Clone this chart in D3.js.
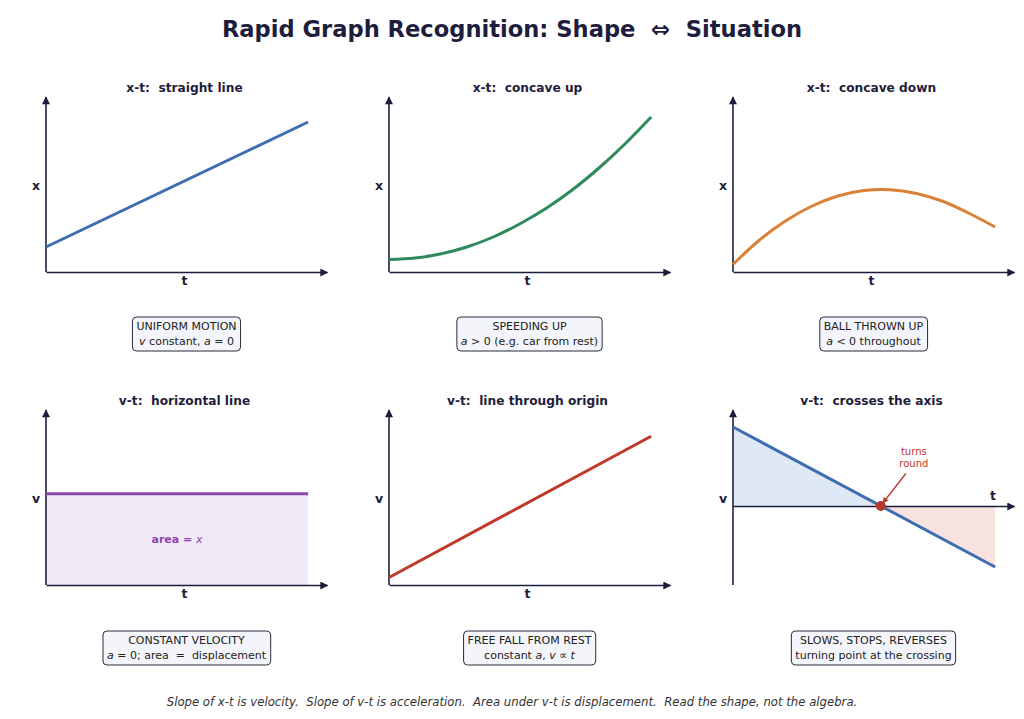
<!DOCTYPE html>
<html lang="en">
<head>
<meta charset="utf-8">
<script src="https://d3js.org/d3.v7.min.js"></script>
<style>
  * { margin: 0; padding: 0; }
  body { background: #fff; }
  svg { display: block; font-family: "DejaVu Sans", sans-serif; }
  svg text { white-space: pre; }
  .ink { fill: #1f1d3d; }
</style>
</head>
<body>
<script>
// ---- data ----
const tSamples = [0, 1, 2, 3, 4, 5, 6, 7, 8, 9, 10];
const tEnds = [0, 10];
const xStraight = [1.0, 6.0];
const xConcaveUp = [0.5, 0.56, 0.73, 1.01, 1.41, 1.93, 2.55, 3.29, 4.15, 5.12, 6.2];
const xConcaveDown = [0.3, 1.27, 2.04, 2.63, 3.04, 3.26, 3.29, 3.14, 2.83, 2.35, 1.8];
const vHorizontal = [3.65, 3.65];
const vOrigin = [0.3, 5.95];
const vCrossing = [3.16, -2.44];
const tTurn = 5.64;

const titles = ["x-t:  straight line", "x-t:  concave up", "x-t:  concave down",
                "v-t:  horizontal line", "v-t:  line through origin", "v-t:  crosses the axis"];
const yLabels = ["x", "x", "x", "v", "v", "v"];
const colors = ["#3f6eb0", "#2e8a5c", "#da8138", "#8e44ad", "#c0392b", "#3f6eb0"];
// caption lines; segments [text, italic]
const captions = [
  [[["UNIFORM MOTION", 0]], [["v", 1], [" constant, ", 0], ["a", 1], [" = 0", 0]]],
  [[["SPEEDING UP", 0]], [["a", 1], [" > 0 (e.g. car from rest)", 0]]],
  [[["BALL THROWN UP", 0]], [["a", 1], [" < 0 throughout", 0]]],
  [[["CONSTANT VELOCITY", 0]], [["a", 1], [" = 0; area  =  displacement", 0]]],
  [[["FREE FALL FROM REST", 0]], [["constant ", 0], ["a", 1], [", ", 0], ["v", 1], [" \u221d ", 0], ["t", 1]]],
  [[["SLOWS, STOPS, REVERSES", 0]], [["turning point at the crossing", 0]]]
];
const series = [
  { t: tEnds, v: xStraight },
  { t: tSamples, v: xConcaveUp },
  { t: tSamples, v: xConcaveDown },
  { t: tEnds, v: vHorizontal },
  { t: tEnds, v: vOrigin },
  { t: tEnds, v: vCrossing }
];

const W = 1024, H = 719;
const ink = "#1f1d3d";
const svg = d3.select("body").append("svg").attr("width", W).attr("height", H);

const defs = svg.append("defs");
defs.append("marker").attr("id", "arr")
  .attr("viewBox", "0 0 10 10").attr("refX", 9).attr("refY", 5)
  .attr("markerWidth", 10).attr("markerHeight", 8).attr("markerUnits", "userSpaceOnUse")
  .attr("orient", "auto")
  .append("path").attr("d", "M0,0 L10,5 L0,10 Z").attr("fill", ink);
defs.append("marker").attr("id", "arrRed")
  .attr("viewBox", "0 0 10 10").attr("refX", 9).attr("refY", 5)
  .attr("markerWidth", 7).attr("markerHeight", 6).attr("markerUnits", "userSpaceOnUse")
  .attr("orient", "auto")
  .append("path").attr("d", "M0,0 L10,5 L0,10 Z").attr("fill", "#b8372b");

svg.append("text").attr("x", 512).attr("y", 37).attr("text-anchor", "middle")
  .attr("font-size", 22.6).attr("font-weight", "bold").attr("class", "ink")
  .text("Rapid Graph Recognition: Shape  \u21d4  Situation");

const colX = [46, 389, 733];
const rowTop = [97, 410];
const plotW = 281, plotH = 175;

series.forEach((s, i) => {
  const c = i % 3, r = Math.floor(i / 3);
  const x0 = colX[c], yTop = rowTop[r], yBot = yTop + plotH;
  const g = svg.append("g");
  const x = d3.scaleLinear().domain([0, 10.72]).range([x0, x0 + plotW]);
  const y = d3.scaleLinear().domain(i === 5 ? [-3.16, 3.84] : [0, 7]).range([yBot, yTop]);
  const cx = x0 + plotW / 2 - 2;

  g.append("text").attr("x", cx).attr("y", yTop - 5).attr("text-anchor", "middle")
    .attr("font-size", 12.2).attr("font-weight", "bold").attr("class", "ink").text(titles[i]);

  const pts = s.t.map((t, k) => [t, s.v[k]]);

  // fills
  if (i === 3) {
    g.append("path").datum(pts)
      .attr("d", d3.area().x(d => x(d[0])).y0(y(0)).y1(d => y(d[1])))
      .attr("fill", "#f1e8f8");
    const tx = g.append("text").attr("x", x(5)).attr("y", y(1.7)).attr("text-anchor", "middle")
      .attr("font-size", 11).attr("fill", "#8e44ad");
    tx.append("tspan").attr("font-weight", "bold").text("area = ");
    tx.append("tspan").attr("font-style", "italic").text("x");
  }
  if (i === 5) {
    const lineAt = t => vCrossing[0] + (vCrossing[1] - vCrossing[0]) * t / 10;
    const pos = [[0, lineAt(0)], [tTurn, 0]];
    const neg = [[tTurn, 0], [10, lineAt(10)]];
    const ar = d3.area().x(d => x(d[0])).y0(y(0)).y1(d => y(d[1]));
    g.append("path").datum(pos).attr("d", ar).attr("fill", "#dfe8f5");
    g.append("path").datum(neg).attr("d", ar).attr("fill", "#f8e2e0");
  }

  // axes
  const zeroY = i === 5 ? y(0) : yBot;
  g.append("g").attr("transform", `translate(0,${zeroY})`)
    .call(d3.axisBottom(x).ticks(0).tickSizeOuter(0))
    .call(a => a.select(".domain").attr("stroke", ink).attr("stroke-width", 1.6).attr("marker-end", "url(#arr)"));
  g.append("g").attr("transform", `translate(${x0},0)`)
    .call(d3.axisLeft(y).ticks(0).tickSizeOuter(0))
    .call(a => a.select(".domain").attr("stroke", ink).attr("stroke-width", 1.6)
      .attr("d", `M0,${yBot}V${yTop}`).attr("marker-end", "url(#arr)"));

  // curve
  g.append("path").datum(pts)
    .attr("d", d3.line().curve(d3.curveCatmullRom).x(d => x(d[0])).y(d => y(d[1])))
    .attr("fill", "none").attr("stroke", colors[i]).attr("stroke-width", 3);

  // axis labels
  const lbl = (xx, yy, t) => g.append("text").attr("x", xx).attr("y", yy).attr("text-anchor", "middle")
    .attr("font-size", 12.5).attr("font-weight", "bold").attr("class", "ink").text(t);
  if (i === 5) {
    lbl(x0 + 260, zeroY - 6, "t");
    lbl(x0 - 10, zeroY - 3, yLabels[i]);
  } else {
    lbl(cx, yBot + 13, "t");
    lbl(x0 - 10, yTop + 93, yLabels[i]);
  }

  if (i === 5) {
    g.append("line").attr("x1", x(tTurn) + 25).attr("y1", y(1.3))
      .attr("x2", x(tTurn) + 2).attr("y2", y(0) - 3)
      .attr("stroke", "#b8372b").attr("stroke-width", 1.3).attr("marker-end", "url(#arrRed)");
    g.append("circle").attr("cx", x(tTurn)).attr("cy", y(0)).attr("r", 5).attr("fill", "#b8372b");
    g.append("text").attr("x", x(tTurn) + 33).attr("y", y(2.05)).attr("text-anchor", "middle")
      .attr("font-size", 10).attr("fill", "#c0392b")
      .selectAll("tspan").data(["turns", "round"]).join("tspan")
      .attr("x", x(tTurn) + 33).attr("dy", (d, k) => k ? 12 : 0).text(d => d);
  }

  // caption box
  const boxCy = yBot + 61 + (r ? 1 : 0);
  const cg = g.append("g");
  const txt = cg.append("text").attr("text-anchor", "middle").attr("font-size", 11).attr("fill", "#222");
  captions[i].forEach((line, k) => {
    const ln = txt.append("tspan").attr("x", cx + 2).attr("y", boxCy - 3 + k * 15);
    line.forEach(([s2, it]) => ln.append("tspan").attr("font-style", it ? "italic" : null).text(s2));
  });
  const bb = txt.node().getBBox();
  cg.insert("rect", "text").attr("x", bb.x - 4).attr("y", bb.y - 3)
    .attr("width", bb.width + 8).attr("height", bb.height + 6)
    .attr("rx", 4).attr("fill", "#f3f5fa").attr("stroke", "#2a2a3a").attr("stroke-width", 1);
});

svg.append("text").attr("x", 512).attr("y", 706).attr("text-anchor", "middle")
  .attr("font-size", 11.7).attr("font-style", "italic").attr("fill", "#333")
  .text("Slope of x-t is velocity.  Slope of v-t is acceleration.  Area under v-t is displacement.  Read the shape, not the algebra.");
</script>
</body>
</html>
